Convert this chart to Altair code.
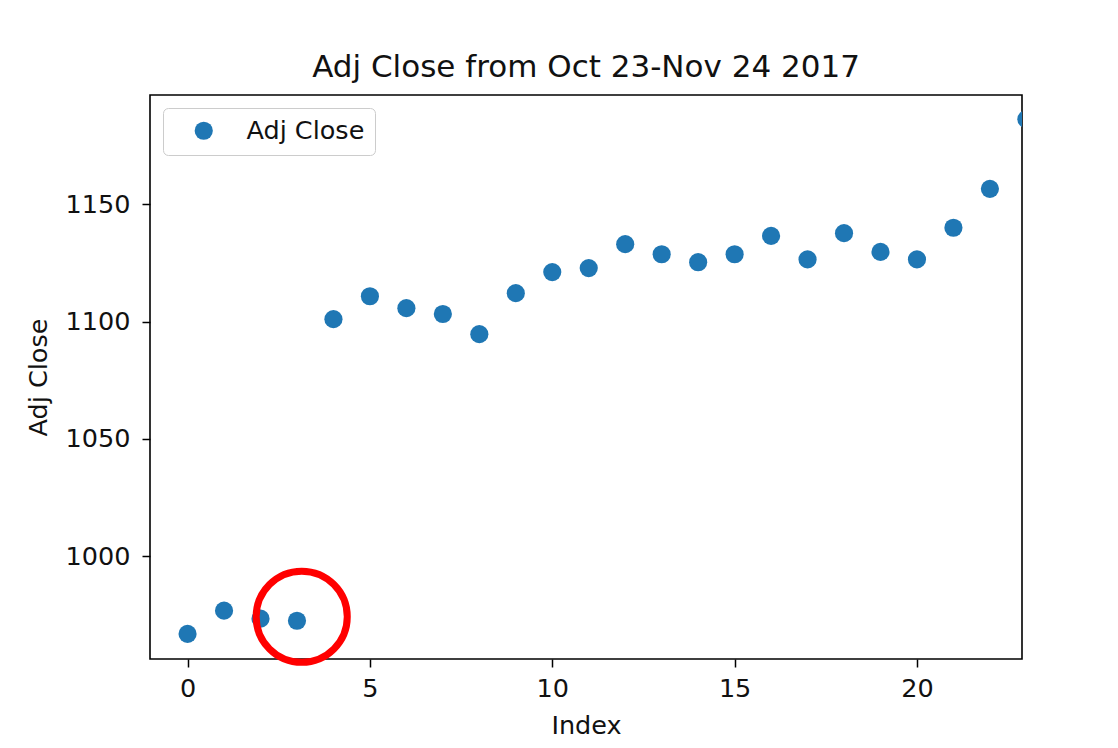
import altair as alt
import pandas as pd

# ---- data ----
index = list(range(24))
adj_close = [966.8, 976.7, 973.3, 972.4, 1101.0, 1110.8, 1105.7, 1103.2,
             1094.6, 1112.1, 1121.1, 1122.8, 1133.0, 1128.7, 1125.3, 1128.7,
             1136.5, 1126.5, 1137.7, 1129.7, 1126.5, 1140.0, 1156.6, 1186.3]
series_name = "Adj Close"
x_ticks = [0, 5, 10, 15, 20]
y_ticks = [1000, 1050, 1100, 1150]
x_domain = [-1.03, 22.88]
y_domain = [956.1, 1196.6]
highlight_x = [3.13]
highlight_y = [974.1]
title_text = "Adj Close from Oct 23-Nov 24 2017"

FONT = "DejaVu Sans"
FS = 25.5

df = pd.DataFrame({"Index": index, "Adj Close": adj_close,
                   "series": [series_name] * len(index)})
hl = pd.DataFrame({"Index": highlight_x, "Adj Close": highlight_y})

x_scale = alt.Scale(domain=x_domain, nice=False, zero=False)
y_scale = alt.Scale(domain=y_domain, nice=False, zero=False)

x_axis = alt.Axis(values=x_ticks, format="d", title="Index", grid=False, domain=False,
                  tickSize=8, tickWidth=1.5, tickColor="#000", labelPadding=9,
                  labelFont=FONT, labelFontSize=FS, labelColor="#111",
                  titleFont=FONT, titleFontSize=FS, titleFontWeight="normal",
                  titleColor="#111", titleY=66, titleBaseline="middle")
y_axis = alt.Axis(values=y_ticks, format="d", title="Adj Close", grid=False, domain=False,
                  tickSize=8, tickWidth=1.5, tickColor="#000", labelPadding=12,
                  labelFont=FONT, labelFontSize=FS, labelColor="#111",
                  titleFont=FONT, titleFontSize=FS, titleFontWeight="normal",
                  titleColor="#111", titleX=-112, titleY=282, titleBaseline="middle")

points = alt.Chart(df).mark_circle(size=330, opacity=1, clip=True).encode(
    x=alt.X("Index:Q", scale=x_scale, axis=x_axis),
    y=alt.Y("Adj Close:Q", scale=y_scale, axis=y_axis),
    color=alt.Color("series:N",
                    scale=alt.Scale(domain=[series_name], range=["#1f77b4"]),
                    legend=alt.Legend(title=None, orient="none", legendX=13, legendY=13,
                                      padding=10, strokeColor="#cccccc", fillColor="white",
                                      cornerRadius=5, symbolType="circle", symbolSize=330,
                                      symbolStrokeWidth=0, symbolOffset=18, labelOffset=30,
                                      labelFont=FONT, labelFontSize=FS, labelColor="#111")),
)

ring = alt.Chart(hl).mark_point(shape="circle", size=8300, filled=False,
                                 stroke="#ff0000", strokeWidth=7, opacity=1).encode(
    x=alt.X("Index:Q", scale=x_scale),
    y=alt.Y("Adj Close:Q", scale=y_scale),
)

chart = alt.layer(points, ring).properties(
    width=872, height=564,
    title=alt.TitleParams(title_text, font=FONT, fontSize=31, fontWeight="normal",
                          color="#111", offset=18, baseline="alphabetic", dy=31),
    autosize=alt.AutoSizeParams(type="none"),
    padding={"left": 142, "top": 87, "right": 88, "bottom": 81},
    background="white",
).configure_view(stroke="#000", strokeWidth=1.6)

chart.save("out.html", embed_options={"renderer": "svg", "actions": False})
